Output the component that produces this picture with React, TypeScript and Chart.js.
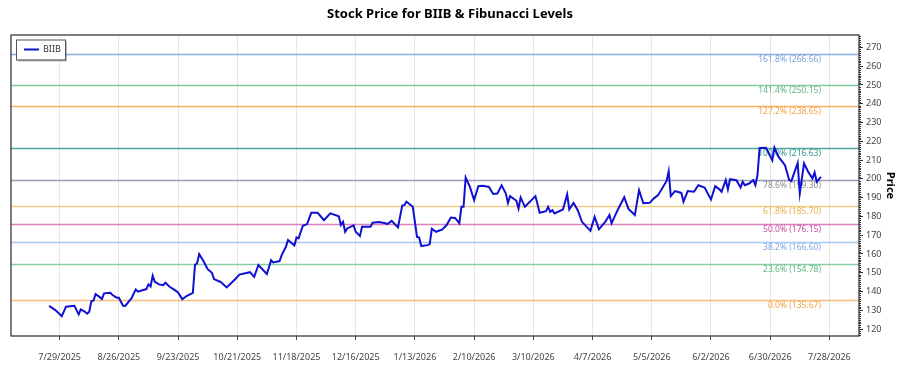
import React, { useEffect, useRef } from 'react';
import { Chart, registerables } from 'chart.js';

Chart.register(...registerables);

const FONT = '"Noto Sans", "Open Sans", "DejaVu Sans", sans-serif';

const chartTitle = 'Stock Price for BIIB & Fibunacci Levels';
const seriesName = 'BIIB';
const yTitle = 'Price';

const dates = [
  '2025-07-24', '2025-07-27', '2025-07-30', '2025-08-01', '2025-08-05', '2025-08-06', '2025-08-07', '2025-08-08',
  '2025-08-10', '2025-08-11', '2025-08-12', '2025-08-13', '2025-08-14', '2025-08-15', '2025-08-17', '2025-08-18',
  '2025-08-19', '2025-08-22', '2025-08-23', '2025-08-25', '2025-08-26', '2025-08-28', '2025-08-29', '2025-09-01',
  '2025-09-03', '2025-09-04', '2025-09-08', '2025-09-09', '2025-09-10', '2025-09-11', '2025-09-12', '2025-09-14',
  '2025-09-16', '2025-09-17', '2025-09-19', '2025-09-21', '2025-09-23', '2025-09-25', '2025-09-27', '2025-09-30',
  '2025-10-01', '2025-10-02', '2025-10-03', '2025-10-05', '2025-10-07', '2025-10-09', '2025-10-10', '2025-10-12',
  '2025-10-13', '2025-10-14', '2025-10-16', '2025-10-20', '2025-10-22', '2025-10-27', '2025-10-29', '2025-10-31',
  '2025-11-04', '2025-11-06', '2025-11-07', '2025-11-10', '2025-11-11', '2025-11-13', '2025-11-14', '2025-11-17',
  '2025-11-18', '2025-11-19', '2025-11-21', '2025-11-23', '2025-11-25', '2025-11-28', '2025-12-01', '2025-12-04',
  '2025-12-08', '2025-12-09', '2025-12-10', '2025-12-11', '2025-12-12', '2025-12-15', '2025-12-16', '2025-12-18',
  '2025-12-19', '2025-12-23', '2025-12-24', '2025-12-27', '2025-12-30', '2025-12-31', '2026-01-02', '2026-01-05',
  '2026-01-07', '2026-01-08', '2026-01-09', '2026-01-12', '2026-01-14', '2026-01-15', '2026-01-16', '2026-01-19',
  '2026-01-20', '2026-01-21', '2026-01-23', '2026-01-26', '2026-01-28', '2026-01-30', '2026-02-01', '2026-02-03',
  '2026-02-04', '2026-02-05', '2026-02-06', '2026-02-08', '2026-02-10', '2026-02-12', '2026-02-14', '2026-02-17',
  '2026-02-19', '2026-02-21', '2026-02-23', '2026-02-25', '2026-02-26', '2026-02-27', '2026-03-02', '2026-03-03',
  '2026-03-04', '2026-03-06', '2026-03-11', '2026-03-13', '2026-03-16', '2026-03-17', '2026-03-18', '2026-03-19',
  '2026-03-20', '2026-03-24', '2026-03-26', '2026-03-27', '2026-03-29', '2026-03-31', '2026-04-02', '2026-04-06',
  '2026-04-08', '2026-04-10', '2026-04-13', '2026-04-15', '2026-04-16', '2026-04-19', '2026-04-22', '2026-04-24',
  '2026-04-27', '2026-04-29', '2026-05-01', '2026-05-04', '2026-05-06', '2026-05-08', '2026-05-12', '2026-05-13',
  '2026-05-14', '2026-05-16', '2026-05-19', '2026-05-20', '2026-05-22', '2026-05-25', '2026-05-27', '2026-05-30',
  '2026-06-02', '2026-06-04', '2026-06-06', '2026-06-07', '2026-06-09', '2026-06-10', '2026-06-11', '2026-06-14',
  '2026-06-16', '2026-06-17', '2026-06-18', '2026-06-20', '2026-06-22', '2026-06-23', '2026-06-24', '2026-06-25',
  '2026-06-28', '2026-07-01', '2026-07-02', '2026-07-04', '2026-07-07', '2026-07-09', '2026-07-10', '2026-07-13',
  '2026-07-14', '2026-07-16', '2026-07-18', '2026-07-20', '2026-07-21', '2026-07-22', '2026-07-24',
];

const prices = [
  132.3, 130.1, 126.8, 131.9, 132.4, 130.1, 127.8, 130.5,
  129.2, 128.2, 129.2, 134.9, 135.1, 138.6, 137.0, 136.0,
  139.0, 139.3, 138.1, 136.7, 136.7, 132.4, 132.3, 136.4,
  141.1, 139.9, 141.3, 143.8, 142.7, 148.4, 145.2, 143.8,
  143.4, 144.7, 142.5, 141.1, 139.5, 135.8, 137.6, 139.3,
  154.1, 155.0, 159.9, 156.2, 151.9, 150.0, 146.6, 145.6,
  145.2, 144.3, 142.2, 146.5, 149.0, 150.3, 147.8, 154.1,
  149.3, 156.7, 155.5, 156.2, 159.4, 163.8, 167.4, 164.5,
  168.8, 168.3, 175.0, 175.9, 181.9, 181.9, 178.0, 181.6,
  180.1, 175.4, 177.1, 171.8, 173.6, 175.2, 171.8, 169.5,
  174.5, 174.5, 176.6, 177.0, 176.3, 175.9, 177.6, 174.1,
  185.8, 186.0, 187.8, 185.1, 169.1, 168.8, 164.2, 164.7,
  165.2, 173.4, 171.8, 173.1, 175.4, 179.4, 179.2, 176.3,
  185.1, 185.1, 200.7, 195.7, 188.7, 196.1, 196.3, 195.7,
  191.9, 192.2, 196.5, 192.2, 187.2, 190.8, 188.3, 184.2,
  190.1, 185.1, 190.8, 181.9, 182.8, 185.1, 182.4, 183.3,
  181.6, 183.7, 191.7, 183.7, 187.2, 183.3, 177.1, 172.3,
  179.8, 173.1, 177.1, 180.7, 176.3, 183.7, 190.2, 184.0,
  180.7, 194.0, 187.0, 187.2, 189.6, 191.3, 198.9, 204.1,
  190.8, 193.5, 192.5, 187.8, 193.5, 193.1, 196.6, 195.4,
  189.0, 196.1, 194.4, 193.1, 199.3, 194.4, 199.8, 199.3,
  195.4, 198.4, 196.6, 197.5, 199.3, 196.6, 202.0, 216.4,
  216.6, 209.9, 216.6, 211.7, 207.3, 199.3, 198.8, 208.5,
  192.2, 208.2, 203.7, 200.2, 203.4, 198.4, 201.1,
];

const fibLabels = ['0.0%', '23.6%', '38.2%', '50.0%', '61.8%', '78.6%', '100.0%', '127.2%', '141.4%', '161.8%'];
const fibValues = [135.67, 154.78, 166.6, 176.15, 185.7, 199.3, 216.63, 238.65, 250.15, 266.66];
const fibLineColors = [
  'rgba(245,170,80,0.75)', 'rgba(100,190,135,0.75)', 'rgba(140,180,235,0.75)', 'rgba(205,85,165,0.75)',
  'rgba(236,190,100,0.8)', 'rgba(130,130,170,0.8)', 'rgba(50,150,140,0.85)', 'rgba(245,165,70,0.85)',
  'rgba(100,190,135,0.8)', 'rgba(120,160,220,0.85)',
];
const fibTextColors = [
  '#F2A443', '#5DB681', '#7DA7E3', '#C94FA0', '#E8B24E', '#8C8C95', '#2F958C', '#F2A443', '#5DB681', '#7DA3DB',
];

const xTickDates = [
  '2025-07-29', '2025-08-26', '2025-09-23', '2025-10-21', '2025-11-18', '2025-12-16', '2026-01-13',
  '2026-02-10', '2026-03-10', '2026-04-07', '2026-05-05', '2026-06-02', '2026-06-30', '2026-07-28',
];
const xStart = '2025-07-06';
const xEnd = '2026-08-11';
const yMin = 116.3;
const yMax = 276.6;
const yStep = 10;

const LINE_COLOR = '#1010D2';
const DAY = 86400000;
const toDay = (s: string) => {
  const [y, m, d] = s.split('-').map(Number);
  return Date.UTC(y, m - 1, d) / DAY;
};
const fmtDay = (v: number) => {
  const dt = new Date(Math.round(v) * DAY);
  return `${dt.getUTCMonth() + 1}/${dt.getUTCDate()}/${dt.getUTCFullYear()}`;
};

const fibPlugin = {
  id: 'fibLevels',
  beforeDatasetsDraw(chart: any) {
    const { ctx, chartArea, scales } = chart;
    const ys = scales.y;
    const xs = scales.x;
    const lastX = xs.getPixelForValue(toDay(dates[dates.length - 1]));
    ctx.save();
    ctx.beginPath();
    ctx.rect(chartArea.left, chartArea.top, chartArea.right - chartArea.left, chartArea.bottom - chartArea.top);
    ctx.clip();
    fibValues.forEach((v, i) => {
      const y = Math.round(ys.getPixelForValue(v)) + 0.5;
      ctx.strokeStyle = fibLineColors[i];
      ctx.lineWidth = 1.5;
      ctx.beginPath();
      ctx.moveTo(chartArea.left, y);
      ctx.lineTo(chartArea.right, y);
      ctx.stroke();
    });
    ctx.font = `8.5px ${FONT}`;
    ctx.textAlign = 'right';
    ctx.textBaseline = 'top';
    fibValues.forEach((v, i) => {
      const y = ys.getPixelForValue(v);
      ctx.fillStyle = fibTextColors[i];
      ctx.fillText(`${fibLabels[i]} (${v.toFixed(2)})`, lastX, y + 1.5);
    });
    ctx.restore();
  },
};

const decorPlugin = {
  id: 'decor',
  afterDraw(chart: any) {
    const { ctx, chartArea, scales } = chart;
    const ys = scales.y;
    ctx.save();
    // frame
    ctx.strokeStyle = '#3a3a3a';
    ctx.lineWidth = 1.3;
    ctx.strokeRect(chartArea.left, chartArea.top, chartArea.right - chartArea.left, chartArea.bottom - chartArea.top);
    // minor ticks on right axis
    ctx.lineWidth = 1;
    ctx.strokeStyle = '#333';
    for (let v = Math.ceil(yMin); v <= Math.floor(yMax); v++) {
      if (v % yStep === 0) continue;
      const y = Math.round(ys.getPixelForValue(v)) + 0.5;
      ctx.beginPath();
      ctx.moveTo(chartArea.right, y);
      ctx.lineTo(chartArea.right + 2, y);
      ctx.stroke();
    }
    // title
    ctx.fillStyle = '#000';
    ctx.font = `bold 13px ${FONT}`;
    ctx.textAlign = 'center';
    ctx.textBaseline = 'middle';
    ctx.fillText(chartTitle, chart.width / 2, 14);
    // legend box
    const lx = 16, ly = 39.5, lw = 49, lh = 20;
    ctx.fillStyle = 'rgba(0,0,0,0.25)';
    ctx.fillRect(lx + 2, ly + 2, lw, lh);
    ctx.fillStyle = '#fff';
    ctx.fillRect(lx, ly, lw, lh);
    ctx.strokeStyle = '#555';
    ctx.lineWidth = 1;
    ctx.strokeRect(lx + 0.5, ly + 0.5, lw, lh);
    ctx.strokeStyle = LINE_COLOR;
    ctx.lineWidth = 2;
    ctx.beginPath();
    ctx.moveTo(lx + 8, ly + 10);
    ctx.lineTo(lx + 23, ly + 10);
    ctx.stroke();
    ctx.fillStyle = '#333';
    ctx.font = `9px ${FONT}`;
    ctx.textAlign = 'left';
    ctx.textBaseline = 'middle';
    ctx.fillText(chart.data.datasets[0].label, lx + 27, ly + 10);
    ctx.restore();
  },
};

export default function App() {
  const ref = useRef<HTMLCanvasElement | null>(null);
  useEffect(() => {
    if (!ref.current) return;
    const chart = new Chart(ref.current, {
      type: 'line',
      data: {
        datasets: [
          {
            label: seriesName,
            data: dates.map((d, i) => ({ x: toDay(d), y: prices[i] })),
            borderColor: LINE_COLOR,
            backgroundColor: LINE_COLOR,
            borderWidth: 2,
            pointRadius: 0,
            tension: 0,
            fill: false,
          },
        ],
      },
      options: {
        responsive: false,
        animation: false,
        layout: { padding: { left: 11, top: 35, right: 0, bottom: 0 } },
        plugins: {
          legend: { display: false },
          title: { display: false },
          tooltip: { enabled: false },
        },
        scales: {
          x: {
            type: 'linear',
            min: toDay(xStart),
            max: toDay(xEnd),
            afterBuildTicks: (s: any) => {
              s.ticks = xTickDates.map((d) => ({ value: toDay(d) }));
            },
            afterFit: (s: any) => {
              s.height = 39;
            },
            ticks: {
              callback: (v: any) => fmtDay(Number(v)),
              font: { family: FONT, size: 9 },
              color: '#444',
              padding: 12,
              maxRotation: 0,
              autoSkip: false,
            },
            grid: { color: '#E6E6E6', tickColor: '#444', tickLength: 4, lineWidth: 1 },
            border: { display: false },
          },
          y: {
            type: 'linear',
            position: 'right',
            min: yMin,
            max: yMax,
            afterFit: (s: any) => {
              s.width = 41;
            },
            ticks: {
              stepSize: yStep,
              includeBounds: false,
              font: { family: FONT, size: 9 },
              color: '#444',
              padding: 3,
            },
            grid: { drawOnChartArea: false, tickLength: 4, tickColor: '#333' },
            border: { display: false },
            title: {
              display: true,
              text: yTitle,
              font: { family: FONT, size: 11, weight: 'bold' },
              color: '#000',
              padding: { top: 3, bottom: 0 },
            },
          },
        },
      },
      plugins: [fibPlugin, decorPlugin],
    });
    return () => chart.destroy();
  }, []);
  return (
    <div style={{ position: 'absolute', left: 0, top: 0, width: 900, height: 375 }}>
      <canvas ref={ref} width={900} height={375} style={{ display: 'block' }} />
    </div>
  );
}
